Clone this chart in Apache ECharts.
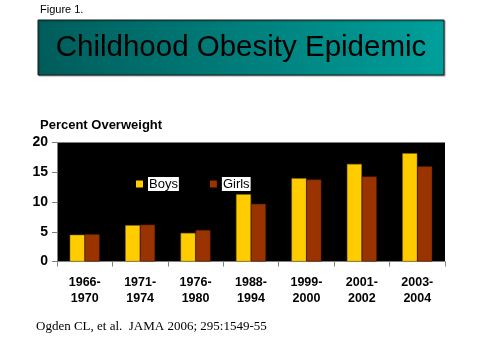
<!DOCTYPE html>
<html><head><meta charset="utf-8">
<script src="https://cdn.jsdelivr.net/npm/echarts@6/dist/echarts.min.js"></script>
<style>html,body{margin:0;padding:0;background:#fff}#c{width:480px;height:360px}</style>
</head><body><div id="c"></div>
<script>
var categories = ['1966-\n1970','1971-\n1974','1976-\n1980','1988-\n1994','1999-\n2000','2001-\n2002','2003-\n2004'];
var boys = [4.5, 6.1, 4.8, 11.3, 14.0, 16.4, 18.2];
var girls = [4.6, 6.2, 5.3, 9.7, 13.8, 14.3, 16.0];
var yTicks = [0, 5, 10, 15, 20];

var chart = echarts.init(document.getElementById('c'), null, {renderer:'canvas'});
chart.setOption({
  animation: false,
  backgroundColor: '#fff',
  graphic: [
    {type:'text', left:40, top:4, style:{text:'Figure 1.', font:'11px "Liberation Sans", Arial, sans-serif', fill:'#000'}},
    {type:'rect', shape:{x:38, y:20, width:406, height:55},
     style:{fill:{type:'linear', x:0, y:1, x2:1, y2:0, colorStops:[{offset:0,color:'#005c5a'},{offset:1,color:'#00a09c'}]}, stroke:'#1a1a1a', lineWidth:1,
       shadowColor:'rgba(0,0,0,0.3)', shadowBlur:1, shadowOffsetX:1, shadowOffsetY:1}},
    {type:'text', x:241, y:48, style:{text:'Childhood Obesity Epidemic', font:'29.5px "Liberation Sans", Arial, sans-serif', fill:'#000', textAlign:'center', textVerticalAlign:'middle'}},
    {type:'text', left:40, top:119, style:{text:'Percent Overweight', font:'bold 13px "Liberation Sans", Arial, sans-serif', fill:'#000'}},
    {type:'text', left:36, top:320, style:{text:'Ogden CL, et al.  JAMA 2006; 295:1549-55', font:'13px "Liberation Serif", "Times New Roman", serif', fill:'#000'}}
  ],
  grid: {left:57, right:35, top:142.5, bottom:98.5, show:true, backgroundColor:'#000', borderWidth:0},
  legend: {
    data:['Boys','Girls'], left:131, top:172, itemWidth:7, itemHeight:7, itemGap:31,
    icon:'rect', itemStyle:{borderWidth:0},
    textStyle:{color:'#000', backgroundColor:'#fff', fontSize:13, fontFamily:'"Liberation Sans", Arial, sans-serif', padding:[1,1,0,1]}
  },
  xAxis: {
    type:'category', data:categories,
    axisLine:{show:true, lineStyle:{color:'#808080'}},
    axisTick:{show:true, length:5, lineStyle:{color:'#808080'}},
    axisLabel:{color:'#000', fontWeight:'bold', fontSize:12.5, fontFamily:'"Liberation Sans", Arial, sans-serif', margin:13, lineHeight:16}
  },
  yAxis: {
    type:'value', min:0, max:20, interval:5,
    axisLine:{show:true, lineStyle:{color:'#808080'}},
    axisTick:{show:true, length:5, lineStyle:{color:'#808080'}},
    splitLine:{show:false},
    axisLabel:{color:'#000', fontWeight:'bold', fontSize:14, fontFamily:'"Liberation Sans", Arial, sans-serif', margin:9,
      formatter:function(v){return yTicks.indexOf(v)>=0?String(v):'';}}
  },
  series: [
    {name:'Boys', type:'bar', data:boys, barGap:'0%', barCategoryGap:'46%', itemStyle:{color:'#ffcc00', borderColor:'#8a6a00', borderWidth:0.5}},
    {name:'Girls', type:'bar', data:girls, itemStyle:{color:'#993300', borderColor:'#4a1800', borderWidth:0.5}}
  ]
});
</script></body></html>
